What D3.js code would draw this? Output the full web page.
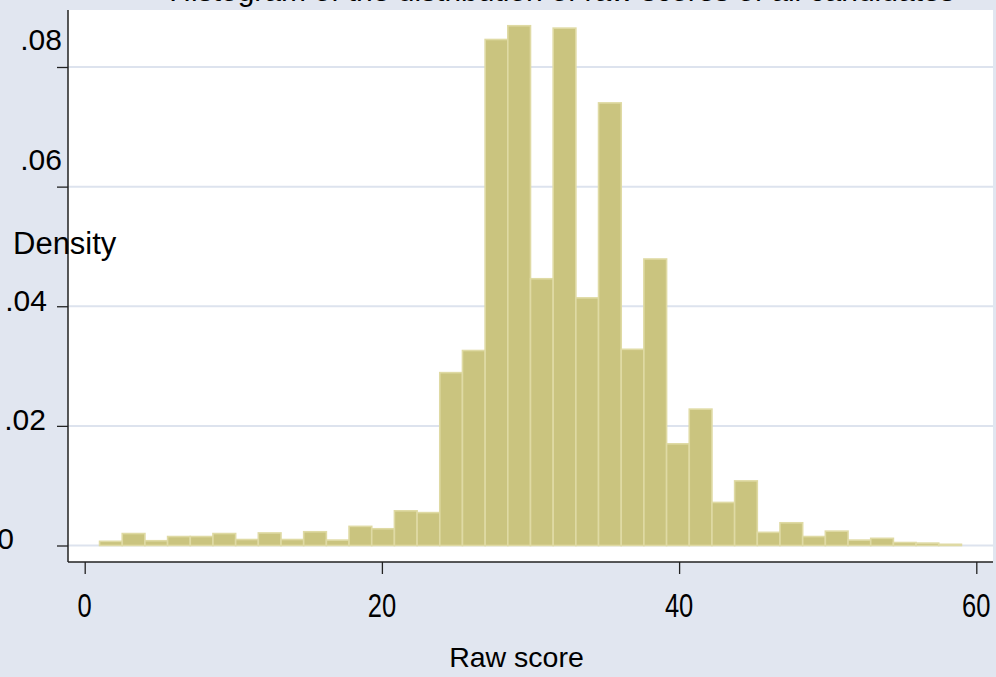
<!DOCTYPE html>
<html>
<head>
<meta charset="utf-8">
<script src="https://cdn.jsdelivr.net/npm/d3@7"></script>
<style>
  html, body { margin: 0; padding: 0; background: #e1e6f0; }
  svg { display: block; }
  text { font-family: "Liberation Sans", Arial, Helvetica, sans-serif; fill: #000; }
</style>
</head>
<body>
<svg id="chart" width="996" height="677"></svg>
<script>
// ---- data ----
const binStart = 1;
const binWidth = 58 / 38;
const densities = [
  0.0007, 0.0020, 0.0008, 0.0015, 0.0015, 0.0020, 0.0010, 0.0021, 0.0010, 0.0023,
  0.0009, 0.0032, 0.0028, 0.0058, 0.0055, 0.0289, 0.0326, 0.0846, 0.0869, 0.0446,
  0.0865, 0.0414, 0.0740, 0.0328, 0.0479, 0.0170, 0.0228, 0.0072, 0.0108, 0.0022,
  0.0038, 0.0015, 0.0024, 0.0009, 0.0012, 0.0005, 0.0004, 0.0002
];
const xTicks = [0, 20, 40, 60];
const xTickLabels = ["0", "20", "40", "60"];
const yTicks = [0, 0.02, 0.04, 0.06, 0.08];
const yTickLabels = ["0", ".02", ".04", ".06", ".08"];
const xTitle = "Raw score";
const yTitle = "Density";
const chartTitle = "Histogram of the distribution of raw scores of all candidates";

// ---- layout ----
const svg = d3.select("#chart");
const W = 996, H = 677;
const plot = { left: 68, right: 993, top: 10, bottom: 562 };
const x = d3.scaleLinear().domain([0, 60]).range([84.7, 976.3]);
const y = d3.scaleLinear().domain([0, 0.08]).range([545.5, 67]);

const bins = densities.map((d, i) => ({
  x0: binStart + i * binWidth,
  x1: binStart + (i + 1) * binWidth,
  d: d
}));

// background
svg.append("rect").attr("x", 0).attr("y", 0).attr("width", W).attr("height", H).attr("fill", "#e1e6f0");
svg.append("rect")
  .attr("x", plot.left).attr("y", plot.top)
  .attr("width", plot.right - plot.left).attr("height", plot.bottom - plot.top)
  .attr("fill", "#ffffff");

// gridlines
svg.append("g").selectAll("line").data(yTicks).join("line")
  .attr("x1", plot.left).attr("x2", plot.right)
  .attr("y1", d => y(d)).attr("y2", d => y(d))
  .attr("stroke", "#dde3ee").attr("stroke-width", 2);

// bars
svg.append("g").selectAll("rect").data(bins).join("rect")
  .attr("x", d => x(d.x0))
  .attr("width", d => x(d.x1) - x(d.x0))
  .attr("y", d => y(d.d))
  .attr("height", d => y(0) - y(d.d))
  .attr("fill", "#cac47f")
  .attr("stroke", "#dfdaa4")
  .attr("stroke-width", 1.6);

// y axis
const yAxis = d3.axisLeft(y).tickValues(yTicks).tickSize(11).tickFormat("");
const gy = svg.append("g").attr("transform", `translate(${plot.left},0)`).call(yAxis);
gy.select(".domain").remove();
gy.selectAll(".tick line").attr("stroke", "#222").attr("stroke-width", 1.3);
svg.append("line")
  .attr("x1", plot.left).attr("x2", plot.left)
  .attr("y1", plot.top).attr("y2", plot.bottom)
  .attr("stroke", "#222").attr("stroke-width", 1.5);

// y tick labels (placement as in the reference)
const yLabelRight = [14, 46, 47, 62, 62];
const yLabelDy = [3, 4, 5, -17, -17];
svg.append("g").selectAll("text").data(yTicks).join("text")
  .attr("x", (d, i) => yLabelRight[i])
  .attr("y", (d, i) => y(d) + yLabelDy[i])
  .attr("text-anchor", "end")
  .attr("font-size", 30)
  .text((d, i) => yTickLabels[i]);

// x axis
const xAxis = d3.axisBottom(x).tickValues(xTicks).tickSize(12).tickFormat("");
const gx = svg.append("g").attr("transform", `translate(0,${plot.bottom})`).call(xAxis);
gx.select(".domain").remove();
gx.selectAll(".tick line").attr("stroke", "#222").attr("stroke-width", 1.3);
svg.append("line")
  .attr("x1", plot.left).attr("x2", plot.right)
  .attr("y1", plot.bottom).attr("y2", plot.bottom)
  .attr("stroke", "#222").attr("stroke-width", 1.5);

svg.append("g").selectAll("text").data(xTicks).join("text")
  .attr("transform", (d) => `translate(${x(d)},617) scale(0.88,1.12)`)
  .attr("text-anchor", "middle")
  .attr("font-size", 29)
  .text((d, i) => xTickLabels[i]);

// axis titles
svg.append("text")
  .attr("x", 516.5).attr("y", 667)
  .attr("text-anchor", "middle")
  .attr("font-size", 28.5)
  .text(xTitle);

svg.append("text")
  .attr("x", 13).attr("y", 254)
  .attr("text-anchor", "start")
  .attr("font-size", 31)
  .text(yTitle);

// chart title (cut off at the top of the image)
svg.append("text")
  .attr("x", 562).attr("y", 1)
  .attr("text-anchor", "middle")
  .attr("font-size", 30)
  .attr("fill", "#333")
  .text(chartTitle);
</script>
</body>
</html>
